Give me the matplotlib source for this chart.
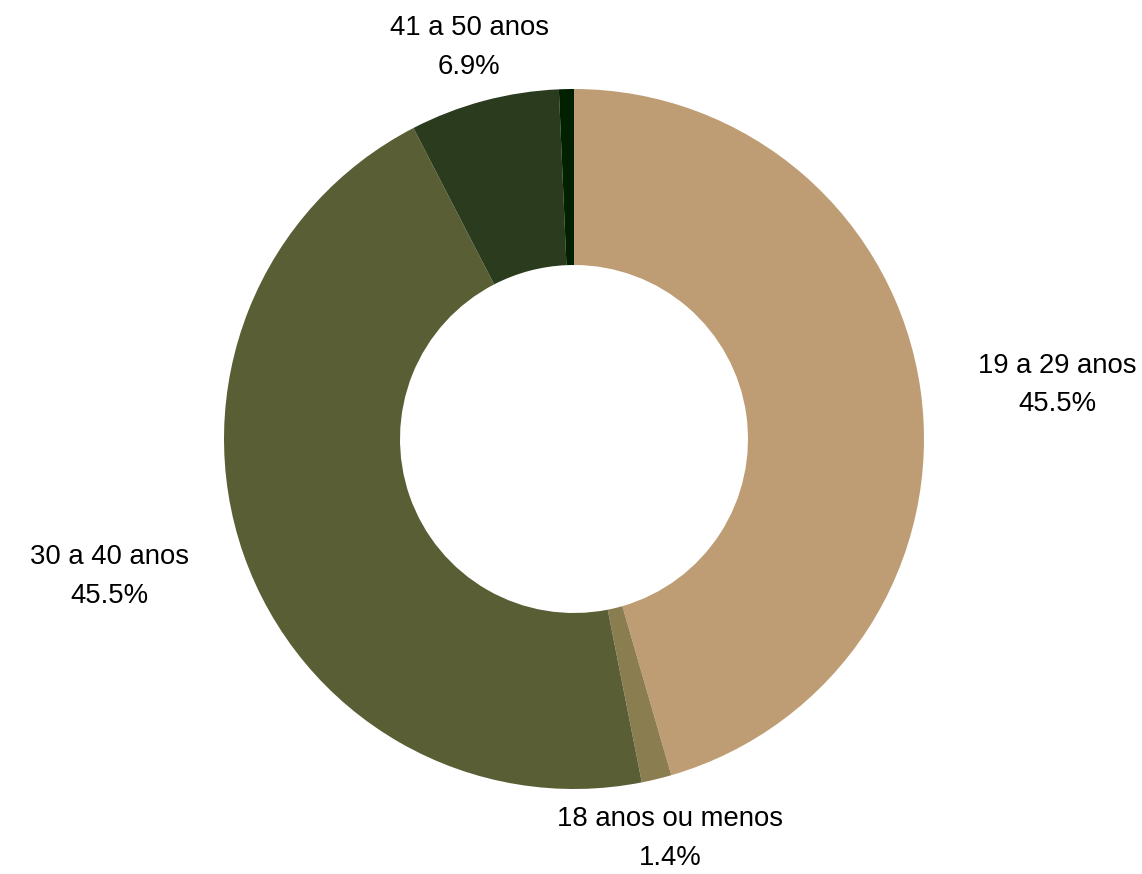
import numpy as np
import matplotlib
matplotlib.use("Agg")
import matplotlib.pyplot as plt

categories = ["19 a 29 anos", "18 anos ou menos", "30 a 40 anos", "41 a 50 anos", "51 anos ou mais"]
counts = [66, 2, 66, 10, 1]
colors = ["#BF9D74", "#8A7E51", "#5A5E35", "#2B3C1E", "#002000"]

plt.rcParams['font.family'] = ['Liberation Sans', 'DejaVu Sans']

W, H = 1142, 874
fig = plt.figure(figsize=(W / 100, H / 100), dpi=100)
ax = fig.add_axes([0, 0, 1, 1])

R = 350
cx, cy = 574, 435
wedges, _ = ax.pie(counts, colors=colors, startangle=90, counterclock=False,
                   radius=R, center=(cx, cy), frame=True,
                   wedgeprops=dict(width=176, linewidth=0))
ax.set_xlim(0, W)
ax.set_ylim(0, H)
ax.set_aspect('equal')
ax.axis('off')

total = sum(counts)
label_r = 1.166 * R
for w, cat, c in zip(wedges, categories, counts):
    pct = 100 * c / total
    if pct < 1.0:
        continue
    ang = np.deg2rad((w.theta1 + w.theta2) / 2)
    x = cx + label_r * np.cos(ang)
    y = cy + label_r * np.sin(ang) - 3
    s = np.cos(ang)
    if s > 0.5:
        ha = 'left'
    elif s < -0.5:
        ha = 'right'
    else:
        ha = 'center'
    ax.text(x, y, f"{cat}\n{pct:.1f}%", ha=ha, va='center', multialignment='center',
            fontsize=19.8, color='black', linespacing=1.62)

fig.savefig("out.png", dpi=100, facecolor='white')
